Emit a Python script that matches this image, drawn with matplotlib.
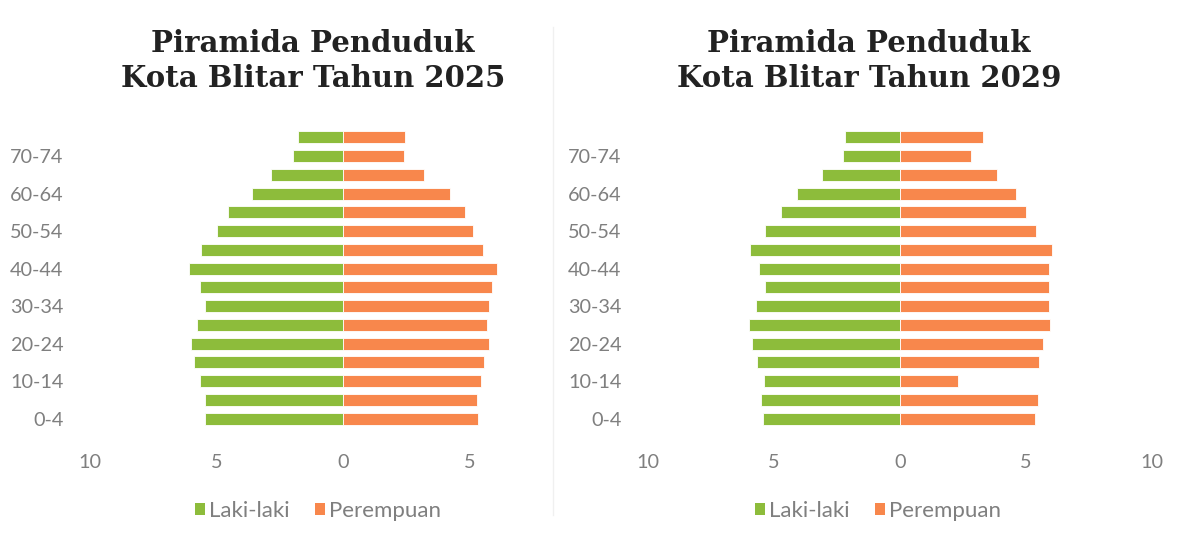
import matplotlib
matplotlib.use("Agg")
import matplotlib.pyplot as plt
from matplotlib.patches import Patch

# kelompok umur (bawah -> atas)
kelompok = ["0-4", "5-9", "10-14", "15-19", "20-24", "25-29", "30-34", "35-39",
            "40-44", "45-49", "50-54", "55-59", "60-64", "65-69", "70-74", "75+"]

# 2025 (persen)
laki_2025 = [5.47, 5.45, 5.67, 5.90, 5.99, 5.78, 5.44, 5.66,
             6.08, 5.63, 4.97, 4.53, 3.59, 2.86, 1.98, 1.77]
perempuan_2025 = [5.34, 5.29, 5.47, 5.58, 5.77, 5.71, 5.79, 5.88,
                  6.07, 5.55, 5.12, 4.82, 4.21, 3.21, 2.41, 2.45]

# 2029 (persen)
laki_2029 = [5.43, 5.50, 5.41, 5.67, 5.87, 5.98, 5.73, 5.35,
             5.61, 5.95, 5.35, 4.71, 4.08, 3.11, 2.25, 2.20]
perempuan_2029 = [5.37, 5.47, 2.32, 5.50, 5.69, 5.94, 5.90, 5.91,
                  5.92, 6.04, 5.41, 5.01, 4.59, 3.84, 2.82, 3.30]

judul = ["Piramida Penduduk\nKota Blitar Tahun 2025",
         "Piramida Penduduk\nKota Blitar Tahun 2029"]

HIJAU = "#8dbc3b"
ORANYE = "#f8874c"
ABU = "#7f7f7f"
W, H = 1177, 542

fig = plt.figure(figsize=(W/100, H/100), dpi=100)
fig.patch.set_facecolor("white")

def px(x0, y0, x1, y1):
    # kotak piksel -> koordinat figure
    return [x0/W, 1-y1/H, (x1-x0)/W, (y1-y0)/H]

panel = [
    (px(90, 128, 553, 428), (-10, 8.3), laki_2025, perempuan_2025, judul[0], 313, 318),
    (px(648, 128, 1152, 428), (-10, 10), laki_2029, perempuan_2029, judul[1], 869, 878),
]

for rect, xl, laki, perempuan, ttl, cx, lx in panel:
    ax = fig.add_axes(rect)
    y = list(range(len(kelompok)))
    ax.barh(y, [-v for v in laki], height=0.63, color=HIJAU,
            edgecolor="white", linewidth=0.6)
    ax.barh(y, perempuan, height=0.63, color=ORANYE,
            edgecolor="white", linewidth=0.6)
    ax.set_xlim(*xl)
    ax.set_ylim(-0.5, len(kelompok)-0.5)
    xt = [t for t in (-10, -5, 0, 5, 10) if xl[0] <= t <= xl[1]]
    ax.set_xticks(xt)
    ax.set_xticklabels([str(abs(t)) for t in xt])
    ax.set_yticks(y[::2])
    ax.set_yticklabels(kelompok[::2])
    for s in ax.spines.values():
        s.set_visible(False)
    ax.tick_params(length=0, colors=ABU, labelsize=14.3)
    ax.tick_params(axis="x", pad=19)
    ax.tick_params(axis="y", pad=19)
    for lb in ax.get_xticklabels() + ax.get_yticklabels():
        lb.set_family("Lato")

    fig.text(cx/W, 1-61/H, ttl, ha="center", va="center", fontsize=21,
             family="DejaVu Serif", weight="bold", color="#222222",
             linespacing=1.22)

    handles = [Patch(facecolor=HIJAU, label="Laki-laki"),
               Patch(facecolor=ORANYE, label="Perempuan")]
    leg = fig.legend(handles=handles, loc="center", ncol=2,
                     bbox_to_anchor=(lx/W, 1-511/H), frameon=False,
                     handlelength=0.45, handleheight=0.45, handletextpad=0.2,
                     columnspacing=1.1,
                     prop={"family": "Lato", "size": 16})
    for t in leg.get_texts():
        t.set_color(ABU)

# garis pemisah samar antar panel
fig.add_artist(plt.Line2D([553/W, 553/W], [0.05, 0.95], color="#f0f0f0", lw=1))

fig.savefig("out.png", dpi=100, facecolor="white")
